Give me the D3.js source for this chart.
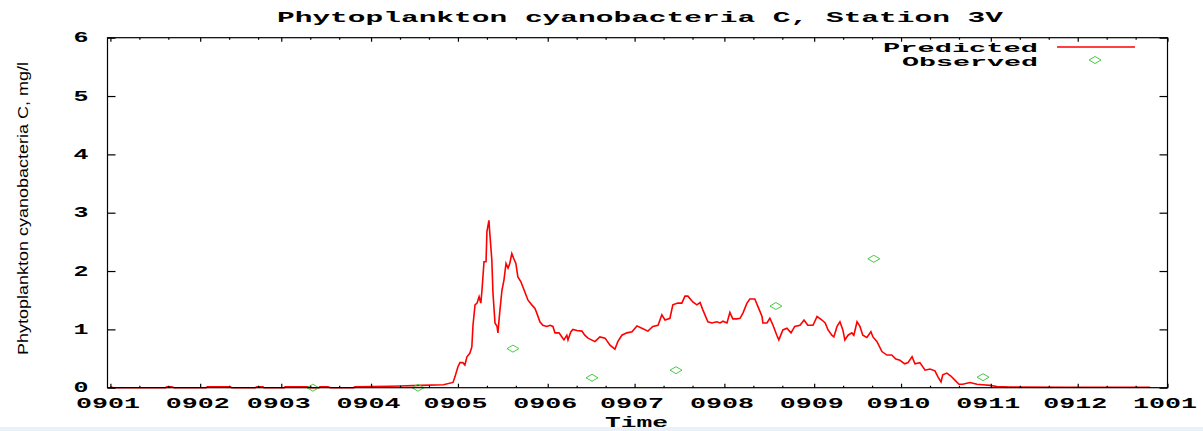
<!DOCTYPE html>
<html><head><meta charset="utf-8">
<script src="https://cdn.jsdelivr.net/npm/d3@7"></script>
<style>body{margin:0;background:#fff}svg{display:block}</style>
</head><body>
<svg id="c" width="1203" height="431"></svg>
<script>
// ---- data (days since 2009-01-01) ----
const predDay = [0,1,19,19.5,21.2,22,33,33.5,41.3,42,50,50.6,52.7,53,60,60.3,68.2,69,72,72.3,75.1,76,84,84.4,96.5,100,107,115,
118.3,119.0,120.0,120.7,121.7,122.4,123.1,124.1,124.8,125.2,125.9,126.6,127.3,127.9,128.3,129.0,129.7,130.0,130.7,131.0,131.7,132.1,132.8,133.5,133.8,134.5,135.2,135.9,136.6,137.3,137.9,138.6,139.3,140.0,140.7,141.7,142.4,143.5,144.2,145.5,146.6,147.3,148.3,149.3,150.7,151.8,152.8,153.5,154.9,155.9,156.6,157.6,158.0,159.0,159.7,161.1,162.8,163.8,164.9,167.3,169.0,170.8,172.5,174.2,175.2,176.6,178.3,180.1,181.8,183.5,185.6,187.3,189.1,190.4,191.5,193.2,194.2,195.9,197.3,198.4,199.4,201.1,202.5,203.6,204.6,206.3,207.7,209.4,210.5,211.5,212.9,213.9,214.9,216.3,217.4,218.4,219.8,220.8,222.5,223.6,225.0,225.3,226.7,227.7,228.8,230.1,230.8,232.2,233.6,235.0,236.3,238.1,239.5,240.8,242.6,244.0,245.7,246.8,247.8,249.1,249.8,250.9,251.9,252.9,253.6,254.7,256.0,256.7,257.8,258.8,259.8,261.2,262.6,263.3,264.7,266.4,268.1,269.8,271.2,272.6,274.3,275.4,276.8,277.8,279.5,281.3,283.0,284.7,285.7,286.8,287.4,288.8,290.2,291.6,293.0,294.3,296.8,299.2,301.2,303.7,306.1,310.6,330,359];
const predVal = [0.015,0,0,0.015,0.015,0,0,0.015,0.015,0,0,0.015,0.015,0,0,0.015,0.015,0,0,0.015,0.015,0,0,0.015,0.025,0.03,0.04,0.05,
0.09,0.19,0.36,0.43,0.43,0.39,0.53,0.59,0.70,1.07,1.42,1.45,1.56,1.45,1.67,2.16,2.16,2.67,2.87,2.65,2.19,1.62,1.11,1.05,0.94,1.33,1.67,1.85,2.13,2.05,2.13,2.30,2.21,2.13,1.90,1.82,1.73,1.59,1.50,1.42,1.36,1.27,1.13,1.07,1.05,1.07,1.05,0.94,0.94,0.87,0.82,0.90,0.82,0.96,1.00,0.98,0.97,0.90,0.85,0.79,0.87,0.85,0.73,0.66,0.79,0.90,0.94,0.96,1.06,1.02,0.97,1.05,1.07,1.25,1.16,1.19,1.42,1.45,1.45,1.57,1.57,1.47,1.42,1.46,1.33,1.13,1.11,1.13,1.11,1.14,1.11,1.29,1.18,1.18,1.19,1.28,1.45,1.52,1.52,1.39,1.22,1.11,1.11,1.19,1.07,0.90,0.82,0.99,1.02,0.94,1.05,1.07,1.16,1.07,1.07,1.22,1.16,1.11,0.99,0.90,0.87,1.05,1.13,0.99,0.82,0.90,0.94,0.90,1.13,1.05,0.90,0.86,0.96,0.87,0.79,0.62,0.56,0.56,0.49,0.47,0.41,0.43,0.53,0.41,0.43,0.30,0.32,0.29,0.19,0.10,0.22,0.25,0.20,0.13,0.06,0.06,0.09,0.06,0.05,0.04,0.02,0.01,0.008,0.008];
const obsDay = [69.9,106.2,139.0,166.3,195.3,229.8,263.6,301.3];
const obsVal = [0.0,0.0,0.67,0.17,0.30,1.40,2.21,0.18];
const yTicks = [0,1,2,3,4,5,6];
const titleText = "Phytoplankton cyanobacteria C, Station 3V";
const yLabelText = "Phytoplankton cyanobacteria C, mg/l";
const xLabelText = "Time";
const legendLabels = ["Predicted","Observed"];

// ---- layout ----
const svg = d3.select("#c");
const L = 107.5, R = 1167.5, T = 37.7, B = 387.7;
const day0 = new Date(2009,0,1);
const toDate = d => new Date(day0.getTime() + d*86400000);
const x = d3.scaleTime().domain([new Date(2008,11,31), new Date(2010,0,1)]).range([L, R]);
const y = d3.scaleLinear().domain([0,6]).range([B, T]);
const mono = "'Liberation Mono', 'DejaVu Sans Mono', monospace";

svg.append("rect").attr("x",0).attr("y",427).attr("width",1203).attr("height",4).attr("fill","#eaf1f8");

// predicted line (drawn under border)
const pts = predDay.map((d,i)=>[toDate(d), predVal[i]]);
svg.append("path").datum(pts)
  .attr("fill","none").attr("stroke","#ff0000").attr("stroke-width",1.6)
  .attr("stroke-linejoin","miter")
  .attr("d", d3.line().x(p=>x(p[0])).y(p=>y(p[1])));

// observed diamonds
const diamond = "M0,-3.5L6,0L0,3.5L-6,0Z";
svg.append("g").selectAll("path").data(obsDay.map((d,i)=>[toDate(d),obsVal[i]])).join("path")
  .attr("d",diamond).attr("transform",p=>`translate(${x(p[0])},${y(p[1])})`)
  .attr("fill","none").attr("stroke","#44cc44").attr("stroke-width",1);

// border
svg.append("rect").attr("x",L).attr("y",T).attr("width",R-L).attr("height",B-T)
  .attr("fill","none").attr("stroke","#000").attr("stroke-width",1.2);

const months = d3.timeMonth.range(new Date(2009,0,1), new Date(2010,0,2));
const minors = [];
d3.timeMonth.range(new Date(2009,0,1), new Date(2010,0,1)).forEach(m=>{
  minors.push(new Date(m.getFullYear(), m.getMonth(), 11));
  minors.push(new Date(m.getFullYear(), m.getMonth(), 21));
});
const fmt = d3.timeFormat("%y%m");

function styleAxis(g){ g.select(".domain").remove(); g.selectAll("line").attr("stroke","#000").attr("stroke-width",1.2); }

// bottom major
const gB = svg.append("g").attr("transform",`translate(0,${B})`)
  .call(d3.axisBottom(x).tickValues(months).tickFormat(fmt).tickSizeInner(-4).tickSizeOuter(0).tickPadding(10));
styleAxis(gB);
gB.selectAll("text").attr("font-family",mono).attr("font-weight","bold").attr("font-size",14)
  .attr("fill","#000").attr("dx",-3).attr("textLength",64).attr("lengthAdjust","spacingAndGlyphs");
// bottom minor
const gBm = svg.append("g").attr("transform",`translate(0,${B})`)
  .call(d3.axisBottom(x).tickValues(minors).tickFormat("").tickSizeInner(-2).tickSizeOuter(0));
styleAxis(gBm);
// top mirrors
const gT = svg.append("g").attr("transform",`translate(0,${T})`)
  .call(d3.axisTop(x).tickValues(months).tickFormat("").tickSizeInner(-4).tickSizeOuter(0));
styleAxis(gT);
const gTm = svg.append("g").attr("transform",`translate(0,${T})`)
  .call(d3.axisTop(x).tickValues(minors).tickFormat("").tickSizeInner(-2).tickSizeOuter(0));
styleAxis(gTm);

// y axes
const gL = svg.append("g").attr("transform",`translate(${L},0)`)
  .call(d3.axisLeft(y).tickValues(yTicks).tickFormat(d3.format("d")).tickSizeInner(-8).tickSizeOuter(0).tickPadding(19));
styleAxis(gL);
gL.selectAll("text").attr("font-family",mono).attr("font-weight","bold").attr("font-size",14)
  .attr("fill","#000").attr("dy","0.3em").attr("textLength",15).attr("lengthAdjust","spacingAndGlyphs");
const gR = svg.append("g").attr("transform",`translate(${R},0)`)
  .call(d3.axisRight(y).tickValues(yTicks).tickFormat("").tickSizeInner(-8).tickSizeOuter(0));
styleAxis(gR);

// title
svg.append("text").attr("x",277).attr("y",22).text(titleText)
  .attr("font-family",mono).attr("font-weight","bold").attr("font-size",15)
  .attr("textLength",726).attr("lengthAdjust","spacingAndGlyphs");
// x label
svg.append("text").attr("x",605).attr("y",427).text(xLabelText)
  .attr("font-family",mono).attr("font-weight","bold").attr("font-size",15)
  .attr("textLength",63).attr("lengthAdjust","spacingAndGlyphs");
// y label
svg.append("text").attr("transform","translate(28,355) rotate(-90)").text(yLabelText)
  .attr("font-family","'Liberation Sans', Arial, sans-serif").attr("font-size",14.5)
  .attr("textLength",293).attr("lengthAdjust","spacingAndGlyphs");

// legend
const legY = [47, 61];
svg.append("text").attr("x",1038).attr("y",legY[0]+5).attr("text-anchor","end").text(legendLabels[0])
  .attr("font-family",mono).attr("font-weight","bold").attr("font-size",13.5)
  .attr("textLength",155).attr("lengthAdjust","spacingAndGlyphs");
svg.append("text").attr("x",1038).attr("y",legY[1]+5).attr("text-anchor","end").text(legendLabels[1])
  .attr("font-family",mono).attr("font-weight","bold").attr("font-size",13.5)
  .attr("textLength",136).attr("lengthAdjust","spacingAndGlyphs");
svg.append("line").attr("x1",1057).attr("x2",1135).attr("y1",legY[0]).attr("y2",legY[0])
  .attr("stroke","#ff0000").attr("stroke-width",1.3);
svg.append("path").attr("d",diamond).attr("transform",`translate(1095,${legY[1]-1})`)
  .attr("fill","none").attr("stroke","#44cc44").attr("stroke-width",1);
</script>
</body></html>
